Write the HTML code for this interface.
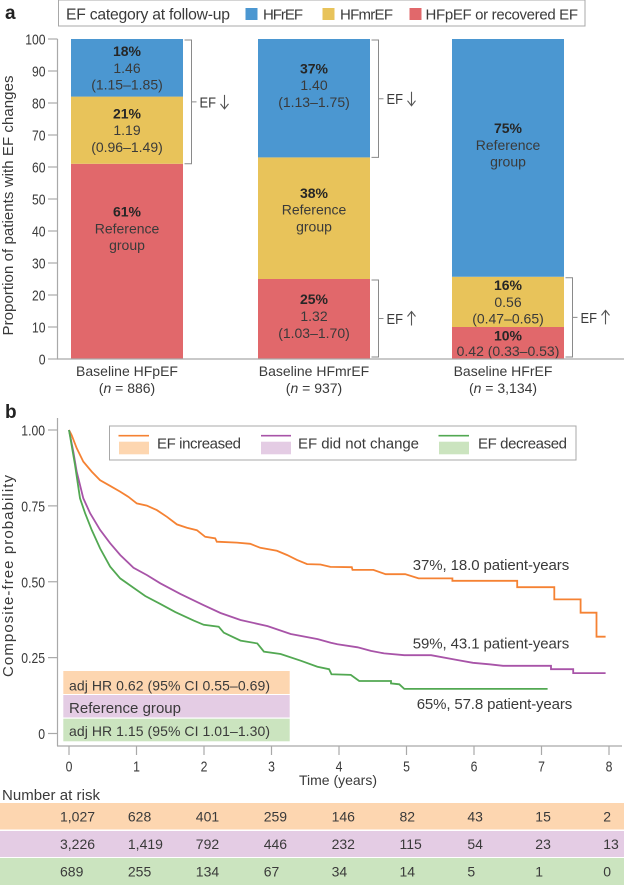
<!DOCTYPE html>
<html lang="en">
<head>
<meta charset="utf-8">
<title>EF category changes and composite-free probability</title>
<style>
html,body{margin:0;padding:0;background:#fff;}
svg{display:block;font-family:"Liberation Sans","DejaVu Sans",sans-serif;}
text{fill:#3a3a3a;font-size:14px;}
</style>
</head>
<body>
<svg id="figure" xmlns="http://www.w3.org/2000/svg" width="624" height="885" viewBox="0 0 624 885">
  <text x="5" y="19" style="font-size:19px;font-weight:bold;fill:#222">a</text>
  <g>
    <rect x="58.5" y="0" width="526.5" height="26" fill="#fff" stroke="#a8a8a8" stroke-width="1"/>
    <text x="66" y="19.5" textLength="164" style="font-size:15.7px">EF category at follow-up</text>
    <rect x="245.5" y="8" width="12" height="12" fill="#4b97d1"/>
    <text x="263" y="19.5" textLength="40" style="font-size:15px">HFrEF</text>
    <rect x="322.5" y="8" width="12" height="12" fill="#e8c35a"/>
    <text x="340" y="19.5" textLength="53" style="font-size:15px">HFmrEF</text>
    <rect x="409.5" y="8" width="12" height="12" fill="#e1686b"/>
    <text x="425.5" y="19.5" textLength="152.5" style="font-size:15px">HFpEF or recovered EF</text>
  </g>
  <g id="panel-a"></g>
  <text x="5" y="418" style="font-size:19px;font-weight:bold;fill:#222">b</text>
  <g id="panel-b"></g>
  <g>
    <rect x="109.5" y="426" width="466.5" height="34" fill="#fff" stroke="#a8a8a8" stroke-width="1"/>
    <line x1="118.5" x2="149" y1="435.7" y2="435.7" stroke="#f58233" stroke-width="1.6"/>
    <rect x="119" y="441.7" width="30" height="12.6" fill="#fdd6b0"/>
    <text x="157" y="448.5" textLength="84" style="font-size:15px">EF increased</text>
    <line x1="261" x2="291" y1="435.7" y2="435.7" stroke="#a854a8" stroke-width="1.6"/>
    <rect x="261" y="441.7" width="30" height="12.6" fill="#e4cce4"/>
    <text x="298" y="448.5" textLength="121" style="font-size:15px">EF did not change</text>
    <line x1="438.5" x2="469" y1="435.7" y2="435.7" stroke="#52a852" stroke-width="1.6"/>
    <rect x="439" y="441.7" width="30" height="12.6" fill="#cbe4bf"/>
    <text x="478" y="448.5" textLength="89" style="font-size:15px">EF decreased</text>
  </g>
  <text x="412.7" y="570" textLength="156.5" style="font-size:15px">37%, 18.0 patient-years</text>
  <text x="412.7" y="648.3" textLength="156.5" style="font-size:15px">59%, 43.1 patient-years</text>
  <text x="416.7" y="709" textLength="155.5" style="font-size:15px">65%, 57.8 patient-years</text>
  <g>
    <rect x="63.3" y="671" width="226.4" height="23" fill="#fdd6b0"/>
    <rect x="63.3" y="695" width="226.4" height="22.5" fill="#e4cce4"/>
    <rect x="63.3" y="718.7" width="226.4" height="22.6" fill="#cbe4bf"/>
    <text x="69" y="690.5" textLength="201">adj HR 0.62 (95% CI 0.55–0.69)</text>
    <text x="69" y="713" textLength="112" style="font-size:15px">Reference group</text>
    <text x="69" y="736" textLength="201">adj HR 1.15 (95% CI 1.01–1.30)</text>
  </g>
  <text x="2" y="800" textLength="98" style="font-size:15px">Number at risk</text>
  <g id="risk-table"></g>
</svg>
<script>
// ---- Panel a data ----
const categories = ['Baseline HFpEF', 'Baseline HFmrEF', 'Baseline HFrEF'];
const categoryCounts = ['886', '937', '3,134'];
const hfpefValues = [61, 25, 10];
const hfmrefValues = [21, 38, 15.7];
const hfrefValues = [18, 37, 74.3];
const hfpefNotes = [['61%', 'Reference', 'group'], ['25%', '1.32', '(1.03–1.70)'], ['10%', '0.42 (0.33–0.53)']];
const hfmrefNotes = [['21%', '1.19', '(0.96–1.49)'], ['38%', 'Reference', 'group'], ['16%', '0.56', '(0.47–0.65)']];
const hfrefNotes = [['18%', '1.46', '(1.15–1.85)'], ['37%', '1.40', '(1.13–1.75)'], ['75%', 'Reference', 'group']];
const percentTicks = [0, 10, 20, 30, 40, 50, 60, 70, 80, 90, 100];

// ---- Panel b data: [time in years, probability] ----
const timeTicks = [0, 1, 2, 3, 4, 5, 6, 7, 8];
const probabilityTicks = ['0', '0.25', '0.50', '0.75', '1.00'];
const efIncreasedCurve = [[0,1],[.04,.983],[.114,.94],[.212,.896],[.337,.863],[.46,.835],[.608,.816],[.757,.797],[.88,.78],[1.004,.758],[1.153,.751],[1.301,.736],[1.45,.714],[1.598,.689],[1.746,.678],[1.895,.67],[2.018,.648],[2.166,.643],[2.19,.632],[2.488,.629],[2.685,.625],[2.834,.612],[3.08,.602],[3.23,.588],[3.378,.572],[3.527,.558],[3.724,.557],[3.872,.549],[4.19,.548],[4.2,.539],[4.51,.539],[4.69,.525],[4.98,.525],[5.18,.511],[5.68,.511],[5.68,.503],[6.64,.503],[6.64,.482],[7.19,.482],[7.19,.442],[7.58,.442],[7.58,.398],[7.815,.398],[7.815,.319],[7.95,.319]];
const efUnchangedCurve = [[0,1],[.064,.929],[.114,.863],[.212,.775],[.312,.726],[.461,.671],[.609,.627],[.758,.588],[.955,.546],[1.155,.522],[1.352,.495],[1.649,.46],[1.991,.423],[2.244,.397],[2.541,.374],[2.942,.354],[3.284,.328],[3.685,.311],[3.878,.299],[3.978,.294],[4.275,.284],[4.473,.272],[4.67,.264],[4.967,.258],[5.364,.258],[5.761,.242],[5.984,.233],[6.23,.228],[6.43,.223],[7.14,.223],[7.14,.212],[7.47,.212],[7.47,.199],[7.95,.199]];
const efDecreasedCurve = [[0,1],[.089,.885],[.163,.775],[.238,.726],[.337,.671],[.461,.61],[.609,.55],[.758,.511],[.881,.492],[1.129,.453],[1.352,.427],[1.575,.4],[1.847,.372],[1.996,.358],[2.218,.352],[2.293,.332],[2.541,.306],[2.789,.297],[2.887,.27],[3.135,.262],[3.432,.24],[3.68,.22],[3.853,.212],[3.889,.195],[4.175,.193],[4.299,.173],[4.77,.173],[4.77,.165],[4.893,.162],[4.967,.147],[7.09,.147]];

// ---- Number at risk data ----
const riskIncreased = ['1,027', '628', '401', '259', '146', '82', '43', '15', '2'];
const riskUnchanged = ['3,226', '1,419', '792', '446', '232', '115', '54', '23', '13'];
const riskDecreased = ['689', '255', '134', '67', '34', '14', '5', '1', '0'];

// ---- Axis functions ----
const yPercent = v => 359 - 3.2 * v;
const xBand = i => 71 + 187 * i + (i > 1 ? 7 : 0);
const bandWidth = 112;
const xTime = t => 69 + 67.5 * t;
const yProb = p => 733.5 - 303.5 * p;

const NS = 'http://www.w3.org/2000/svg';
const GRAY = '#a9a9a9';
const TICK_STYLE = 'font-size:15px';
const panelA = document.getElementById('panel-a');
const panelB = document.getElementById('panel-b');
const riskTable = document.getElementById('risk-table');

function addShape(parent, tag, attrs, name) {
  const el = document.createElementNS(NS, tag);
  for (const k in attrs) el.setAttribute(k, attrs[k]);
  
  
  parent.appendChild(el);
  return el;
}
function addText(parent, str, x, y, anchor, name, style) {
  const el = document.createElementNS(NS, 'text');
  el.setAttribute('x', x);
  el.setAttribute('y', y);
  el.setAttribute('text-anchor', anchor);
  if (style) el.setAttribute('style', style);
  el.textContent = str;
  
  
  parent.appendChild(el);
  return el;
}
// Tick numerals in the reference are narrower than Liberation's.
function condense(el) {
  el.setAttribute('textLength', (el.getComputedTextLength() * 0.81).toFixed(1));
  el.setAttribute('lengthAdjust', 'spacingAndGlyphs');
}

// ---- Draw panel a ----
addShape(panelA, 'line', {x1: 57.5, x2: 57.5, y1: yPercent(100), y2: yPercent(0), stroke: GRAY, 'stroke-width': 1.2}, 'y-axis-line');
percentTicks.forEach(v => {
  addShape(panelA, 'line', {x1: 48, x2: 57.5, y1: yPercent(v), y2: yPercent(v), stroke: GRAY, 'stroke-width': 1.2}, 'y-tick-' + v);
  condense(addText(panelA, String(v), 45.5, yPercent(v) + 5.5, 'end', 'y-tick-label-' + v, TICK_STYLE));
});
const titleA = addText(panelA, 'Proportion of patients with EF changes', 0, 0, 'middle', 'y-axis-title', 'font-size:15px');
titleA.setAttribute('transform', 'translate(13 205.5) rotate(-90)');
titleA.setAttribute('textLength', '260');

const stackSeries = [
  {key: 'hfpef', values: hfpefValues, notes: hfpefNotes, color: '#e1686b', shift: [-33, -3, 0]},
  {key: 'hfmref', values: hfmrefValues, notes: hfmrefNotes, color: '#e8c35a', shift: [0, -8.5, 0]},
  {key: 'hfref', values: hfrefValues, notes: hfrefNotes, color: '#4b97d1', shift: [0, -13, -13]}
];
categories.forEach((cat, i) => {
  let base = 0;
  stackSeries.forEach(s => {
    const top = base + s.values[i];
    const yTop = yPercent(top), yBot = yPercent(base);
    addShape(panelA, 'rect', {x: xBand(i), y: yTop, width: bandWidth, height: yBot - yTop, fill: s.color}, 'bar-' + s.key + '-' + (i + 1));
    const notes = s.notes[i];
    const lineH = notes.length === 2 ? 15.5 : 16.8;
    const cy = (yTop + yBot) / 2 + s.shift[i];
    notes.forEach((line, j) => {
      const y = cy + (j - (notes.length - 1) / 2) * lineH + 5;
      addText(panelA, line, xBand(i) + bandWidth / 2, y, 'middle', 'bar-label-' + s.key + '-' + (i + 1) + '-' + j,
        j === 0 ? 'font-weight:bold;fill:#262626' : '');
    });
    base = top;
  });
  addText(panelA, cat, xBand(i) + bandWidth / 2 - (i === 2 ? 5 : 0), 376, 'middle', 'category-label-' + (i + 1));
  const nLabel = addText(panelA, '(', xBand(i) + bandWidth / 2 - (i === 2 ? 5 : 0), 393, 'middle', 'category-count-' + (i + 1));
  const ital = document.createElementNS(NS, 'tspan');
  ital.setAttribute('font-style', 'italic');
  ital.textContent = 'n';
  nLabel.appendChild(ital);
  nLabel.appendChild(document.createTextNode(' = ' + categoryCounts[i] + ')'));
});
addShape(panelA, 'line', {x1: 57, x2: 624, y1: yPercent(0), y2: yPercent(0), stroke: GRAY, 'stroke-width': 1.2}, 'x-axis-line');

function bracket(i, lowV, highV, dir, name) {
  const x0 = xBand(i) + bandWidth + 1.5, x1 = x0 + 7;
  const yT = yPercent(highV) + 1, yB = yPercent(lowV) - (lowV === 0 ? 2 : 0);
  const ym = (yT + yB) / 2;
  addShape(panelA, 'path', {d: 'M' + x0 + ' ' + yT + 'H' + x1 + 'V' + yB + 'H' + x0 + 'M' + x1 + ' ' + ym + 'H' + (x1 + 5), fill: 'none', stroke: '#8a8a8a', 'stroke-width': 1}, name + '-bracket');
  const efLabel = addText(panelA, 'EF', x1 + 8, ym + 5.5, 'start', name + '-label', 'font-size:15px');
  efLabel.setAttribute('textLength', '16.5');
  efLabel.setAttribute('lengthAdjust', 'spacingAndGlyphs');
  const ax = x1 + 33, s = dir === 'down' ? 1 : -1;
  const tip = ym + s * 7, tail = ym - s * 7;
  addShape(panelA, 'path', {d: 'M' + ax + ' ' + tail + 'V' + tip + 'M' + (ax - 4) + ' ' + (tip - s * 5) + 'L' + ax + ' ' + tip + 'L' + (ax + 4) + ' ' + (tip - s * 5), fill: 'none', stroke: '#555', 'stroke-width': 1.1}, name + '-arrow');
}
bracket(0, hfpefValues[0], 100, 'down', 'ef-down-hfpef');
bracket(1, hfpefValues[1] + hfmrefValues[1], 100, 'down', 'ef-down-hfmref');
bracket(1, 0, hfpefValues[1], 'up', 'ef-up-hfmref');
bracket(2, 0, hfpefValues[2] + hfmrefValues[2], 'up', 'ef-up-hfref');

// ---- Draw panel b ----
addShape(panelB, 'line', {x1: 57.5, x2: 57.5, y1: 418, y2: 746, stroke: GRAY, 'stroke-width': 1.2}, 'survival-y-axis-line');
addShape(panelB, 'line', {x1: 57, x2: 622, y1: 746, y2: 746, stroke: GRAY, 'stroke-width': 1.2}, 'survival-x-axis-line');
probabilityTicks.forEach(v => {
  const y = yProb(parseFloat(v));
  addShape(panelB, 'line', {x1: 48, x2: 57.5, y1: y, y2: y, stroke: GRAY, 'stroke-width': 1.2}, 'survival-y-tick-' + v);
  condense(addText(panelB, v, 45, y + 5.5, 'end', 'survival-y-tick-label-' + v, TICK_STYLE));
});
timeTicks.forEach(t => {
  addShape(panelB, 'line', {x1: xTime(t), x2: xTime(t), y1: 746, y2: 755, stroke: GRAY, 'stroke-width': 1.2}, 'survival-x-tick-' + t);
  condense(addText(panelB, String(t), xTime(t), 771.5, 'middle', 'survival-x-tick-label-' + t, TICK_STYLE));
});
const titleB = addText(panelB, 'Composite-free probability', 0, 0, 'middle', 'survival-y-axis-title', 'font-size:15px');
titleB.setAttribute('transform', 'translate(13 576) rotate(-90)');
titleB.setAttribute('textLength', '202');
addText(panelB, 'Time (years)', 338, 785, 'middle', 'survival-x-axis-title');

function drawCurve(points, color, name) {
  const d = points.map((p, i) => (i ? 'L' : 'M') + xTime(p[0]).toFixed(1) + ' ' + yProb(p[1]).toFixed(1)).join('');
  addShape(panelB, 'path', {d: d, fill: 'none', stroke: color, 'stroke-width': 1.8, 'stroke-linejoin': 'miter'}, name);
}
drawCurve(efIncreasedCurve, '#f58233', 'curve-ef-increased');
drawCurve(efUnchangedCurve, '#a854a8', 'curve-ef-unchanged');
drawCurve(efDecreasedCurve, '#52a852', 'curve-ef-decreased');

// ---- Number at risk table ----
const riskRows = [
  {key: 'ef-increased', values: riskIncreased, fill: '#fdd6b0', y: 803, h: 26.5},
  {key: 'ef-unchanged', values: riskUnchanged, fill: '#e4cce4', y: 831, h: 26},
  {key: 'ef-decreased', values: riskDecreased, fill: '#cbe4bf', y: 858, h: 27}
];
riskRows.forEach(row => {
  addShape(riskTable, 'rect', {x: 0, y: row.y, width: 624, height: row.h, fill: row.fill}, 'risk-row-' + row.key);
  row.values.forEach((v, i) => {
    addText(riskTable, v, 60 + 67.9 * i, row.y + row.h / 2 + 5, 'start', 'risk-value-' + row.key + '-' + i);
  });
});
</script>
</body>
</html>
